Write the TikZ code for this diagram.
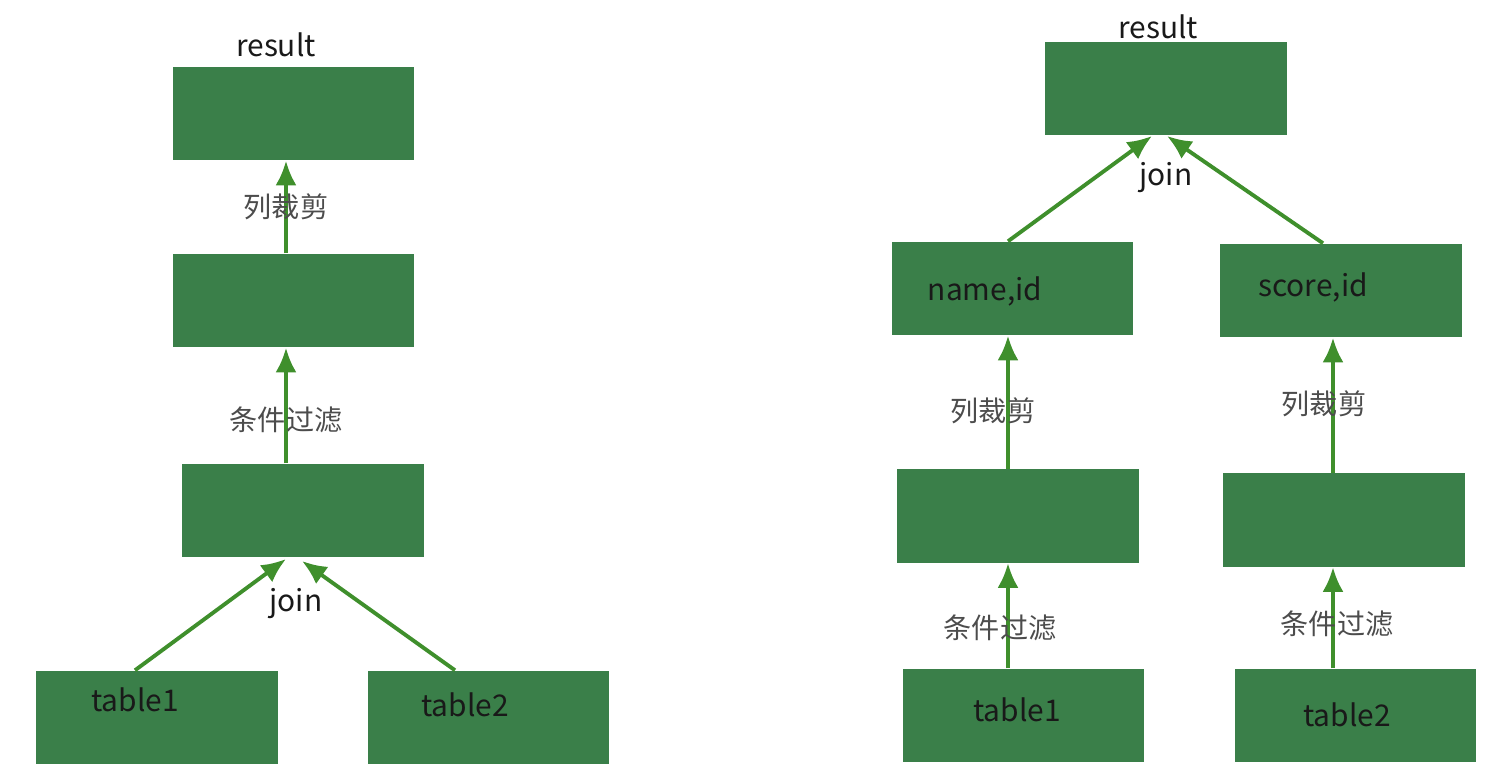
\documentclass[tikz,border=0pt]{standalone}
\usepackage{fontspec}
\setmainfont{Noto Sans CJK SC}
\usetikzlibrary{arrows.meta}
\definecolor{boxgreen}{HTML}{3A7F49}
\definecolor{arrowgreen}{HTML}{3F8F2C}

\begin{document}
\begin{tikzpicture}[x=0.01cm, y=-0.01cm]
    \tikzset{
        box/.style={fill=boxgreen, minimum width=2.41cm, minimum height=0.93cm, inner sep=0pt},
        txt/.style={font=\fontsize{8.5}{10}\selectfont, text=black!90},
        cn/.style={font=\fontsize{8}{10}\selectfont, text=black!70},
        flow/.style={arrowgreen, line width=1.1pt, -{Latex[length=7pt, width=6pt]}}
    }
    \useasboundingbox (0,0) rectangle (1494,782);

    % 1. 左侧: 先 join 再过滤
    \node[box] (LRes)  at (293.5,113.5) {};
    \node[box] (LCut)  at (293.5,300.5) {};
    \node[box] (LJoin) at (303,510.5) {};
    \node[box] (LT1)   at (157,717.5) {};
    \node[box] (LT2)   at (488.5,717.5) {};

    \node[txt] at (276,45)  {result};
    \node[txt] at (135,700) {table1};
    \node[txt] at (465,705) {table2};

    \draw[flow] (LCut.north -| 286,0) -- (LRes.south -| 286,0)
        node[cn, midway] {列裁剪};
    \draw[flow] (LJoin.north -| 286,0) -- (LCut.south -| 286,0)
        node[cn, pos=0.38] {条件过滤};
    \draw[flow] (LT1.north -| 135,0) -- (286,559);
    \draw[flow] (LT2.north -| 455,0) -- (302,561);
    \node[txt] at (296,604) {join};

    % 2. 右侧: 先过滤裁剪再 join
    \node[box] (RRes)   at (1166,88.5) {};
    \node[box] (RName)  at (1012.5,288.5) {};
    \node[box] (RScore) at (1341,290.5) {};
    \node[box] (RMid1)  at (1018,516) {};
    \node[box] (RMid2)  at (1344,520) {};
    \node[box] (RT1)    at (1023.5,715.5) {};
    \node[box] (RT2)    at (1355.5,715.5) {};

    \node[txt] at (1158,27)  {result};
    \node[txt] at (985,291)  {name,id};
    \node[txt] at (1313,287) {score,id};
    \node[txt] at (1017,710) {table1};
    \node[txt] at (1347,715) {table2};

    \draw[flow] (RName.north -| 1008,0) -- (1152,136);
    \draw[flow] (RScore.north -| 1323,0) -- (1167,136);
    \node[txt] at (1166,178) {join};

    \draw[flow] (RMid1.north -| 1008,0) -- (RName.south -| 1008,0);
    \node[cn] at (993,411) {列裁剪};
    \draw[flow] (RMid2.north -| 1333,0) -- (RScore.south -| 1333,0);
    \node[cn] at (1324,404) {列裁剪};

    \draw[flow] (RT1.north -| 1008,0) -- (RMid1.south -| 1008,0);
    \node[cn] at (1000,628) {条件过滤};
    \draw[flow] (RT2.north -| 1333,0) -- (RMid2.south -| 1333,0);
    \node[cn] at (1337,624) {条件过滤};
\end{tikzpicture}
\end{document}
